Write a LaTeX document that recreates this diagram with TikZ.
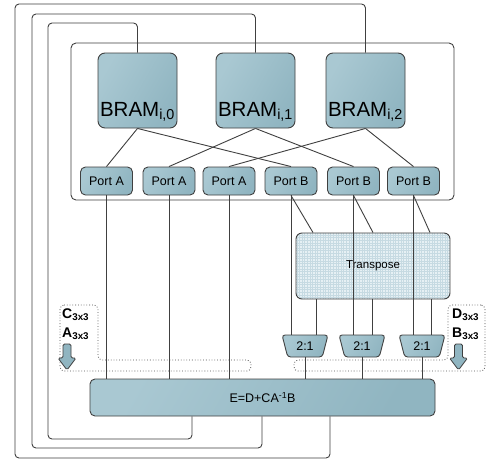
\documentclass[tikz,border=0pt]{standalone}
\usepackage{fontspec}
\setmainfont{Liberation Sans}
\usetikzlibrary{calc,shapes.geometric}

\definecolor{edgegray}{HTML}{404040}
\definecolor{tealA}{HTML}{A9C8D2}
\definecolor{tealB}{HTML}{90B5C1}
\definecolor{gridbg}{HTML}{E6F0F4}
\definecolor{gridln}{HTML}{C6DAE2}
\definecolor{dotgray}{HTML}{505050}

\begin{document}
\begin{tikzpicture}[x=1pt,y=-1pt]
  % overall canvas
  \useasboundingbox (0,0) rectangle (487,464);

  % styles
  \tikzset{
    w0/.style={draw=edgegray,line width=0.9pt,line cap=butt},
    w1/.style={draw=dotgray,line width=0.8pt,dotted,rounded corners=4pt},
    blk/.style={draw=edgegray,line width=0.9pt,left color=tealA,right color=tealB,
      shading angle=60,rounded corners=5pt,inner sep=0pt},
    bram/.style={blk,rounded corners=7pt,minimum width=79pt,minimum height=75pt,
      text height=55pt,text depth=4pt,inner ysep=8pt,font=\fontsize{20.5}{24}\selectfont},
    port/.style={blk,minimum width=52pt,minimum height=28pt,font=\fontsize{12.5}{15}\selectfont},
    mux/.style={blk,trapezium,shape border rotate=180,trapezium angle=72,
      trapezium stretches=true,minimum width=46pt,minimum height=22pt,rounded corners=3pt,
      font=\fontsize{12.5}{15}\selectfont},
    trbox/.style={draw=edgegray,line width=0.9pt,rounded corners=6pt,minimum width=154pt,
      minimum height=66pt,font=\fontsize{11.5}{14}\selectfont,
      path picture={
        \fill[gridbg] (path picture bounding box.south west) rectangle (path picture bounding box.north east);
        \draw[gridln,line width=0.3pt,step=2.6pt] (path picture bounding box.south west) grid (path picture bounding box.north east);
      }},
    lbl/.style={inner sep=0pt,anchor=base west,font=\bfseries\fontsize{14}{16}\selectfont},
    arr/.style={draw=edgegray,line width=0.8pt,fill=tealB,rounded corners=1.5pt},
  }

  % white background
  \fill[white] (0,0) rectangle (487,464);

  % frame round the memories
  \draw[w0,rounded corners=5pt] (71,43) rectangle (454,200);

  % dotted input groups
  \draw[w1] (60,305) -- (98,305) -- (98,360) -- (251,360) -- (251,371) -- (60,371) -- cycle;
  \draw[w1] (485,305) -- (448,305) -- (448,360) -- (294,360) -- (294,371) -- (485,371) -- cycle;

  % transpose block
  \node[trbox] (tr) at (373,266) {Transpose};

  % memories
  \node[bram] (bram0) at (137.5,90.5) {BRAM\textsubscript{i,0}};
  \node[bram] (bram1) at (255.5,90.5) {BRAM\textsubscript{i,1}};
  \node[bram] (bram2) at (365.5,90.5) {BRAM\textsubscript{i,2}};

  % ports
  \node[port] (pa0) at (106.5,181) {Port A};
  \node[port] (pa1) at (169,181) {Port A};
  \node[port] (pa2) at (229,181) {Port A};
  \node[port] (pb0) at (291,181) {Port B};
  \node[port] (pb1) at (353.5,181) {Port B};
  \node[port] (pb2) at (413.5,181) {Port B};

  % multiplexers
  \node[mux] (mux0) at (305,346) {2:1};
  \node[mux] (mux1) at (362,346) {2:1};
  \node[mux] (mux2) at (422,346) {2:1};

  % update block
  \node[blk,minimum width=345pt,minimum height=37pt,font=\fontsize{12.5}{15}\selectfont]
    (ebox) at (262.5,397.5) {E=D+CA\textsuperscript{-1}B};

  % feedback loops
  \draw[w0,rounded corners=4pt] (bram0.north) |- (48,23) |- (192,439) -- (192,0 |- ebox.south);
  \draw[w0,rounded corners=4pt] (bram1.north) |- (32,14) |- (262,448) -- (262,0 |- ebox.south);
  \draw[w0,rounded corners=4pt] (bram2.north) |- (15,4) |- (330,458) -- (330,0 |- ebox.south);

  % memories to ports
  \draw[w0] (bram0.south) -- (pa0.north);
  \draw[w0] (bram0.south) -- (pb0.north);
  \draw[w0] (bram1.south) -- (pa1.north);
  \draw[w0] (bram1.south) -- (pb1.north);
  \draw[w0] (bram2.south) -- (pa2.north);
  \draw[w0] (bram2.south) -- (pb2.north);

  % port A straight down
  \draw[w0] (pa0.south) -- (pa0.south |- ebox.north);
  \draw[w0] (pa1.south) -- (pa1.south |- ebox.north);
  \draw[w0] (pa2.south) -- (pa2.south |- ebox.north);

  % port B to muxes and transpose
  \draw[w0] (pb0.south) -- (pb0.south |- mux0.north);
  \draw[w0] (pb1.south) -- (pb1.south |- mux1.north);
  \draw[w0] (pb2.south) -- (pb2.south |- mux2.north);
  \draw[w0] (pb0.south) -- (313,0 |- tr.north);
  \draw[w0] (pb1.south) -- (373,0 |- tr.north);
  \draw[w0] (pb2.south) -- (430,0 |- tr.north);
  \draw[w0] (316,0 |- tr.south) -- (316,0 |- mux0.north);
  \draw[w0] (372,0 |- tr.south) -- (372,0 |- mux1.north);
  \draw[w0] (431,0 |- tr.south) -- (431,0 |- mux2.north);

  % muxes into update block
  \draw[w0] (mux0.south) -- (mux0.south |- ebox.north);
  \draw[w0] (mux1.south) -- (mux1.south |- ebox.north);
  \draw[w0] (mux2.south) -- (mux2.south |- ebox.north);

  % side labels and arrows
  \node[lbl] (lblC) at (62,318) {C\textsubscript{3x3}};
  \node[lbl] (lblA) at (62,337) {A\textsubscript{3x3}};
  \node[lbl] (lblD) at (452,318) {D\textsubscript{3x3}};
  \node[lbl] (lblB) at (452,337) {B\textsubscript{3x3}};

  \draw[arr] (63,344) -- (71,344) -- (71,358) -- (76,358) -- (67,370) -- (58,358) -- (63,358) -- cycle;
  \draw[arr] (454.5,344) -- (462.5,344) -- (462.5,358) -- (467.5,358) -- (458.5,370) -- (449.5,358) -- (454.5,358) -- cycle;
\end{tikzpicture}
\end{document}
